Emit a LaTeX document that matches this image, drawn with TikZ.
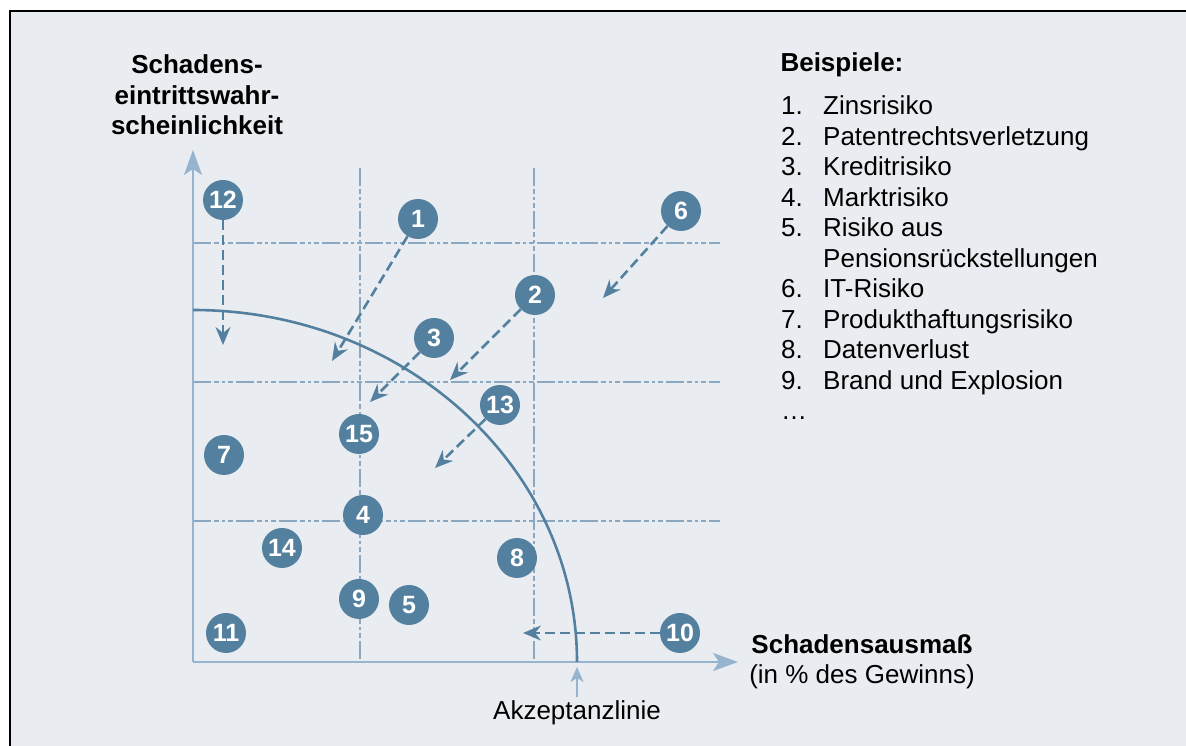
\documentclass[tikz,border=0pt]{standalone}
\usepackage{fontspec}
\setmainfont{Liberation Sans}
\usetikzlibrary{arrows.meta}
\definecolor{bgblue}{RGB}{233,237,241}
\definecolor{riskblue}{RGB}{84,128,160}
\definecolor{gridblue}{RGB}{138,168,194}
\definecolor{axisblue}{RGB}{150,180,206}
\newcommand{\bigfont}{\fontsize{26}{30.5}\selectfont}
\begin{document}
\begin{tikzpicture}[x=1pt, y=1pt,
	risk/.style={circle, fill=riskblue, text=white, minimum size=40pt, inner sep=0pt, font=\fontsize{25}{25}\selectfont\bfseries},
	gridline/.style={gridblue, line width=1.8pt, dash pattern=on 18pt off 3pt on 5pt off 3pt on 3pt off 3pt on 5pt off 3pt},
	moveline/.style={riskblue, line width=2.6pt, dash pattern=on 10pt off 5pt, -{Stealth[length=18pt, width=15pt, inset=6pt]}},
	axisline/.style={axisblue, line width=2.4pt, -{Stealth[length=25pt, width=18pt, inset=6pt]}}]
	\useasboundingbox (0,0) rectangle (1186,746);
	\fill[bgblue] (10,0) rectangle (1186,735);
	\draw[line width=2pt] (10,0) -- (10,735) -- (1186,735);

	% grid
	\draw[gridline] (193,503) -- (720,503);
	\draw[gridline] (193,364) -- (720,364);
	\draw[gridline] (193,225) -- (720,225);
	\draw[gridline] (360,578) -- (360,84);
	\draw[gridline] (534,578) -- (534,84);

	% axes
	\coordinate (o) at (193,84);
	\coordinate (ytip) at (193,596);
	\coordinate (xtip) at (738,84);
	\draw[axisline] (o) -- (ytip);
	\draw[axisline] (o) -- (xtip);
	\node[align=center, font=\bigfont\bfseries] (ytitle) at (197,651) {Schadens-\\eintrittswahr-\\scheinlichkeit};
	\node[align=center, font=\bigfont] (xtitle) at (862,84) {\textbf{Schadensausmaß}\\(in \% des Gewinns)};

	% Akzeptanzlinie
	\draw[riskblue, line width=2.6pt] (193,436) arc[start angle=90, end angle=0, x radius=384, y radius=352];
	\node[font=\bigfont] (akz) at (577,33) {Akzeptanzlinie};
	\coordinate (akztip) at (577,79);
	\draw[axisblue, line width=2.4pt, -{Stealth[length=15pt, width=13pt, inset=4pt]}] (akz) -- (akztip);

	% risks
	\node[risk] (r1) at (418,527) {1};
	\node[risk] (r2) at (535,451) {2};
	\node[risk] (r3) at (434,408) {3};
	\node[risk] (r4) at (363,231) {4};
	\node[risk] (r5) at (409,141) {5};
	\node[risk] (r6) at (681,535) {6};
	\node[risk] (r7) at (224,291) {7};
	\node[risk] (r8) at (517,188) {8};
	\node[risk] (r9) at (359,147) {9};
	\node[risk] (r10) at (680,113) {10};
	\node[risk] (r11) at (226,113) {11};
	\node[risk] (r12) at (223,546) {12};
	\node[risk] (r13) at (500,341) {13};
	\node[risk] (r14) at (282,198) {14};
	\node[risk] (r15) at (359,312) {15};

	% shifts
	\coordinate (e1) at (332,385);
	\coordinate (e2) at (450,366);
	\coordinate (e3) at (370,344);
	\coordinate (e6) at (603,448);
	\coordinate (e10) at (523,113);
	\coordinate (e12) at (223,401);
	\coordinate (e13) at (435,278);
	\draw[moveline] (r1) -- (e1);
	\draw[moveline] (r2) -- (e2);
	\draw[moveline] (r3) -- (e3);
	\draw[moveline] (r6) -- (e6);
	\draw[moveline] (r10) -- (e10);
	\draw[moveline] (r12) -- (e12);
	\draw[moveline] (r13) -- (e13);

	% legend
	\node[anchor=base west, font=\bigfont\bfseries] (title) at (777,674) {Beispiele:};
	\node[anchor=north west, inner sep=0pt, font=\bigfont] (list) at (781,653) {%
		\begin{tabular}{@{}l@{\hspace{16pt}}l@{}}
			1. & Zinsrisiko\\
			2. & Patentrechtsverletzung\\
			3. & Kreditrisiko\\
			4. & Marktrisiko\\
			5. & Risiko aus\\
			   & Pensionsrückstellungen\\
			6. & IT-Risiko\\
			7. & Produkthaftungsrisiko\\
			8. & Datenverlust\\
			9. & Brand und Explosion\\
			\dots &
		\end{tabular}};
\end{tikzpicture}
\end{document}
